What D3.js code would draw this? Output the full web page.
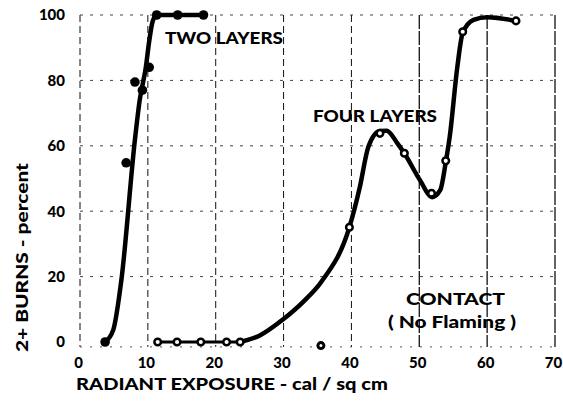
<!DOCTYPE html>
<html>
<head>
<meta charset="utf-8">
<script src="https://cdn.jsdelivr.net/npm/d3@7/dist/d3.min.js"></script>
<style>
  html, body { margin: 0; padding: 0; background: #fff; }
  svg { display: block; }
  text { font-family: "Lato", "DejaVu Sans", sans-serif; font-weight: 900; fill: #000; }
</style>
</head>
<body>
<svg id="chart" width="563" height="404"></svg>
<script>
// Tick values
const xTicks = [0, 10, 20, 30, 40, 50, 60, 70];
const yTicks = [0, 20, 40, 60, 80, 100];

// Two layers: measured points (filled) and fitted curve
const twoLayerPoints = [
  [3.7, 0], [6.8, 54.8], [8.1, 79.5], [9.2, 77], [10.2, 84],
  [11.3, 100], [14.4, 100], [18.2, 100]
];
const twoLayerCurve = [
  [3.7, 0], [4.9, 3.7], [6.1, 19], [8.1, 62], [8.8, 74], [9.7, 84],
  [10.2, 92], [10.7, 98], [11.3, 100], [14.4, 100], [18.2, 100]
];

// Four layers: measured points (open) and fitted curve
const fourLayerPoints = [
  [11.45, 0], [14.3, 0], [17.8, 0], [21.6, 0], [23.6, 0],
  [39.7, 35.1], [44.2, 63.8], [47.8, 57.7], [51.8, 45.5],
  [53.9, 55.4], [56.4, 94.9], [64.25, 98.2]
];
const fourLayerBase = [[11.45, 0], [14.3, 0], [17.8, 0], [21.6, 0], [23.6, 0]];
const fourLayerCurve = [
  [23.6, 0], [26.5, 2], [29.8, 6.7], [33, 12.5], [35.6, 18.5], [39.7, 35.1],
  [41.2, 47], [42.5, 59.7], [44.2, 64.5], [45.2, 64.6], [46.7, 61], [47.8, 57.7],
  [50.1, 49.5], [51.9, 44.3], [53.1, 46.5], [53.9, 55], [54.5, 63],
  [55.6, 84], [56.4, 94.5], [58, 98.5], [60, 99.3], [64.25, 98.2]
];

// Contact (no flaming) point
const contactPoints = [[35.5, -1.1]];

const svg = d3.select("#chart");
const x = d3.scaleLinear().domain([0, 70]).range([80, 555]);
const y = d3.scaleLinear().domain([0, 100]).range([342, 15]);
const yBottom = -1.5;

// Grid
const grid = svg.append("g").attr("class", "grid");
grid.selectAll("line.v").data(xTicks).join("line")
  .attr("class", "v")
  .attr("x1", d => x(d)).attr("x2", d => x(d))
  .attr("y1", y(100)).attr("y2", y(yBottom))
  .attr("stroke", "#111")
  .attr("stroke-width", d => d >= 50 ? 1.3 : 1)
  .attr("stroke-dasharray", d => d >= 50 ? "14,2" : "7,4");
grid.selectAll("line.h").data(yTicks.filter(d => d > 0)).join("line")
  .attr("class", "h")
  .attr("x1", x(0)).attr("x2", x(70))
  .attr("y1", d => y(d)).attr("y2", d => y(d))
  .attr("stroke", "#444")
  .attr("stroke-width", 1)
  .attr("stroke-dasharray", "3,7");
grid.append("line")
  .attr("x1", x(0)).attr("x2", x(70))
  .attr("y1", y(yBottom)).attr("y2", y(yBottom))
  .attr("stroke", "#555").attr("stroke-width", 1)
  .attr("stroke-dasharray", "2,8");

// Axes (labels only)
const xAxis = svg.append("g")
  .attr("transform", `translate(-2,${y(0)})`)
  .call(d3.axisBottom(x).tickValues(xTicks).tickSize(0).tickPadding(15).tickFormat(d3.format("d")));
xAxis.select(".domain").remove();
xAxis.selectAll("text").style("font-size", "15px").style("font-family", "Lato, sans-serif").style("font-weight", "900").attr("fill", "#000");

const yAxis = svg.append("g")
  .attr("transform", `translate(${x(0)},0)`)
  .call(d3.axisLeft(y).tickValues(yTicks).tickSize(0).tickPadding(15).tickFormat(d3.format("d")));
yAxis.select(".domain").remove();
yAxis.selectAll("text").style("font-size", "15px").style("font-family", "Lato, sans-serif").style("font-weight", "900").attr("fill", "#000");

// Axis titles
svg.append("text")
  .attr("x", 76).attr("y", 390)
  .attr("textLength", 312).attr("lengthAdjust", "spacingAndGlyphs")
  .style("font-size", "16px")
  .text("RADIANT EXPOSURE - cal / sq cm");
svg.append("text")
  .attr("transform", "translate(28,352) rotate(-90)")
  .attr("textLength", 189).attr("lengthAdjust", "spacingAndGlyphs")
  .style("font-size", "16px")
  .text("2+ BURNS - percent");

const line = d3.line().x(d => x(d[0])).y(d => y(d[1])).curve(d3.curveMonotoneX);

// Curves
svg.append("path").datum(twoLayerCurve)
  .attr("d", line).attr("fill", "none").attr("stroke", "#000")
  .attr("stroke-width", 4.5).attr("stroke-linejoin", "round").attr("stroke-linecap", "round");
svg.append("path").datum(fourLayerBase)
  .attr("d", line).attr("fill", "none").attr("stroke", "#000")
  .attr("stroke-width", 2.8);
svg.append("path").datum(fourLayerCurve)
  .attr("d", line).attr("fill", "none").attr("stroke", "#000")
  .attr("stroke-width", 4.5).attr("stroke-linejoin", "round").attr("stroke-linecap", "round");

// Points
svg.selectAll("circle.two").data(twoLayerPoints).join("circle")
  .attr("class", "two")
  .attr("cx", d => x(d[0])).attr("cy", d => y(d[1]))
  .attr("r", 4.8).attr("fill", "#000");
svg.selectAll("circle.four").data(fourLayerPoints).join("circle")
  .attr("class", "four")
  .attr("cx", d => x(d[0])).attr("cy", d => y(d[1]))
  .attr("r", 3.3).attr("fill", "#fff").attr("stroke", "#000").attr("stroke-width", 2.5);
svg.selectAll("circle.contact").data(contactPoints).join("circle")
  .attr("class", "contact")
  .attr("cx", d => x(d[0])).attr("cy", d => y(d[1]))
  .attr("r", 3).attr("fill", "#fff").attr("stroke", "#000").attr("stroke-width", 3);

// Series labels
svg.append("text").attr("x", 165).attr("y", 44)
  .attr("textLength", 118).attr("lengthAdjust", "spacingAndGlyphs")
  .style("font-size", "17px").text("TWO LAYERS");
svg.append("text").attr("x", 313).attr("y", 122)
  .attr("textLength", 124).attr("lengthAdjust", "spacingAndGlyphs")
  .style("font-size", "17px").text("FOUR LAYERS");
svg.append("text").attr("x", 406).attr("y", 305)
  .attr("textLength", 99).attr("lengthAdjust", "spacingAndGlyphs")
  .style("font-size", "17px").text("CONTACT");
svg.append("text").attr("x", 388).attr("y", 328)
  .attr("textLength", 128).attr("lengthAdjust", "spacingAndGlyphs")
  .style("font-size", "16px").text("( No Flaming )");
</script>
</body>
</html>
